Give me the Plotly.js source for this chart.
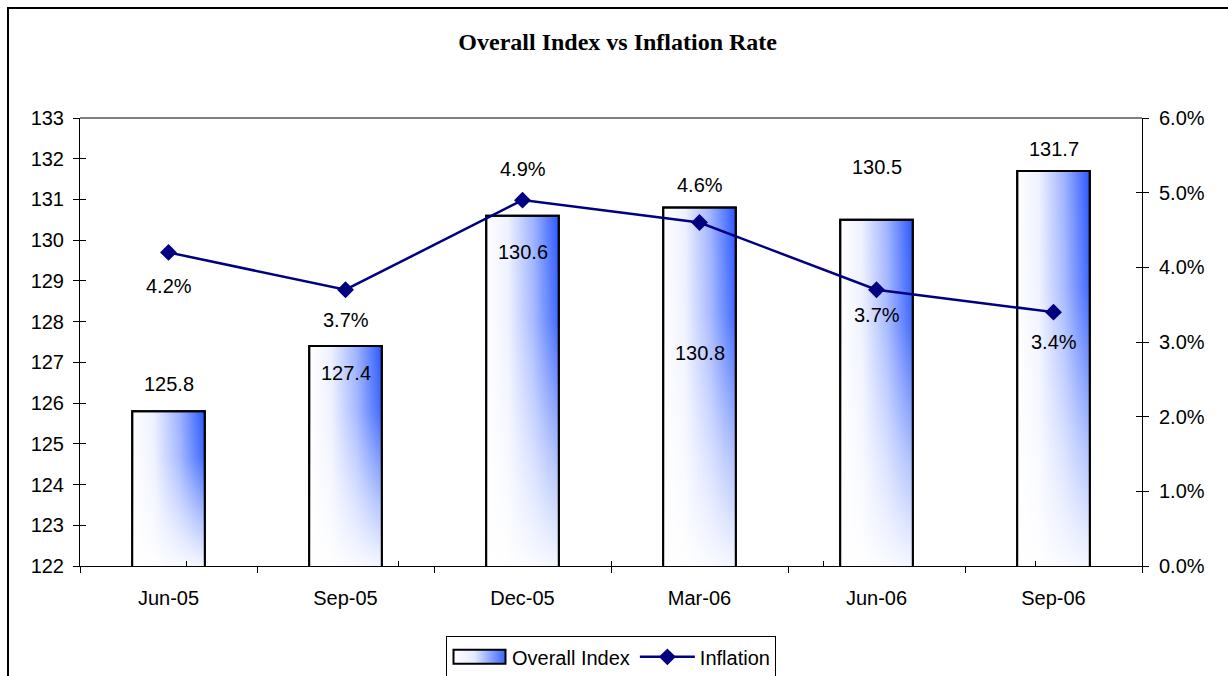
<!DOCTYPE html>
<html>
<head>
<meta charset="utf-8">
<script src="https://cdn.plot.ly/plotly-3.0.1.min.js"></script>
<style>
html,body{margin:0;padding:0;background:#fff;}
#wrap{position:relative;width:1228px;height:676px;overflow:hidden;}
#chart{width:1228px;height:676px;}
#frame{position:absolute;left:7px;top:7px;width:1300px;height:700px;border-left:2px solid #000;border-top:2px solid #000;pointer-events:none;}
</style>
</head>
<body>
<div id="wrap"><div id="chart"></div><div id="frame"></div></div>
<script>
const categories = ["Jun-05", "Sep-05", "Dec-05", "Mar-06", "Jun-06", "Sep-06"];
const overallIndex = [125.8, 127.4, 130.6, 130.8, 130.5, 131.7];
const inflation = [4.2, 3.7, 4.9, 4.6, 3.7, 3.4];
const indexTickVals = [122,123,124,125,126,127,128,129,130,131,132,133];
const inflTickVals = [0,1,2,3,4,5,6];
const inflTickText = inflTickVals.map(v => v.toFixed(1) + "%");

// label offsets (pixels, positive = up)
const indexLabelShift = [27, -27, -36, -145, 53, 22];
const inflLabelShift = [-34, -30, 31, 38, -25, -30];

const FONT = "Liberation Sans, Arial, sans-serif";

const traces = [
  {
    type: "bar", name: "Overall Index", x: categories, y: overallIndex,
    marker: {color: "#7f9cff", line: {color: "#000", width: 2}},
    xaxis: "x", yaxis: "y", hoverinfo: "x+y"
  },
  {
    type: "scatter", mode: "lines+markers", name: "Inflation", x: categories, y: inflation,
    line: {color: "#000080", width: 2.5},
    marker: {symbol: "diamond", size: 13, color: "#000080"},
    xaxis: "x", yaxis: "y2"
  },
  // helper traces for crossing tick marks
  {type: "scatter", mode: "none", x: categories, y: categories.map(() => null), xaxis: "x2", yaxis: "y3", showlegend: false, hoverinfo: "skip"},
  {type: "scatter", mode: "none", x: categories, y: categories.map(() => null), xaxis: "x2", yaxis: "y4", showlegend: false, hoverinfo: "skip"}
];

const annotations = [];
categories.forEach((c, i) => {
  annotations.push({x: c, y: overallIndex[i], xref: "x", yref: "y", text: overallIndex[i].toFixed(1),
    showarrow: false, yshift: indexLabelShift[i], font: {family: FONT, size: 20, color: "#000"}});
  annotations.push({x: c, y: inflation[i], xref: "x", yref: "y2", text: inflation[i].toFixed(1) + "%",
    showarrow: false, yshift: inflLabelShift[i], font: {family: FONT, size: 20, color: "#000"}});
});

const tickFont = {family: FONT, size: 20, color: "#000"};

const layout = {
  width: 1228, height: 676,
  margin: {l: 80, r: 86, t: 118, b: 110, autoexpand: false},
  paper_bgcolor: "#fff", plot_bgcolor: "rgba(0,0,0,0)",
  font: {family: FONT, size: 20, color: "#000"},
  title: {text: "<b>Overall Index vs Inflation Rate</b>", font: {family: "Liberation Serif, Times New Roman, serif", size: 24, color: "#000"},
    x: 0.503, xanchor: "center", y: 1 - 42/676, yanchor: "middle", yref: "container"},
  bargap: 0.59,
  showlegend: true,
  legend: {orientation: "h", x: 0.5, xanchor: "center", y: -0.157, yanchor: "top",
    bordercolor: "#000", borderwidth: 1, font: {family: FONT, size: 20, color: "#000"}, itemwidth: 55,
    traceorder: "normal", tracegroupgap: 0},
  xaxis: {type: "category", showgrid: false, zeroline: false, showline: true, linecolor: "#000", linewidth: 1,
    ticks: "outside", ticklen: 6, tickcolor: "#000", tickson: "boundaries", tickfont: tickFont, ticklabelstandoff: 14, fixedrange: true},
  xaxis2: {type: "category", overlaying: "x", anchor: "y3", showgrid: false, zeroline: false, showline: false,
    ticks: "inside", ticklen: 5, tickcolor: "#000", tickson: "boundaries", showticklabels: false, categoryarray: categories, categoryorder: "array"},
  yaxis: {range: [122, 133], tickvals: indexTickVals, showgrid: false, zeroline: false, showline: true, linecolor: "#000", linewidth: 1,
    ticks: "outside", ticklen: 6, tickcolor: "#000", tickfont: tickFont, ticklabelstandoff: 5},
  yaxis2: {range: [0, 6], tickvals: inflTickVals, ticktext: inflTickText, overlaying: "y", side: "right", showgrid: false, zeroline: false,
    showline: true, linecolor: "#000", linewidth: 1, ticks: "outside", ticklen: 6, tickcolor: "#000", tickfont: tickFont, ticklabelstandoff: 6},
  yaxis3: {range: [122, 133], tickvals: indexTickVals, overlaying: "y", side: "left", showgrid: false, zeroline: false, showline: false,
    ticks: "inside", ticklen: 6, tickcolor: "#000", showticklabels: false},
  yaxis4: {range: [0, 6], tickvals: inflTickVals, overlaying: "y", side: "right", showgrid: false, zeroline: false, showline: false,
    ticks: "inside", ticklen: 6, tickcolor: "#000", showticklabels: false},
  shapes: [
    {type: "line", xref: "paper", yref: "paper", x0: 0, x1: 1, y0: 1, y1: 1, line: {color: "#808080", width: 2}, layer: "below"}
  ],
  annotations: annotations
};

const gd = document.getElementById("chart");
Plotly.newPlot(gd, traces, layout, {displayModeBar: false, staticPlot: true}).then(applyGradients);

function applyGradients() {
  const svg = gd.querySelector(".main-svg");
  const NS = "http://www.w3.org/2000/svg";
  let defs = svg.querySelector("defs");
  if (!defs) { defs = document.createElementNS(NS, "defs"); svg.insertBefore(defs, svg.firstChild); }
  const plotH = gd._fullLayout._size.h;
  function grad(id, x1, y1, x2, y2, stops) {
    const g = document.createElementNS(NS, "linearGradient");
    g.setAttribute("id", id);
    g.setAttribute("gradientUnits", "userSpaceOnUse");
    g.setAttribute("x1", x1); g.setAttribute("y1", y1); g.setAttribute("x2", x2); g.setAttribute("y2", y2);
    stops.forEach(s => {
      const st = document.createElementNS(NS, "stop");
      st.setAttribute("offset", s[0]);
      st.setAttribute("stop-color", s[1]);
      st.setAttribute("stop-opacity", s[2]);
      g.appendChild(st);
    });
    defs.appendChild(g);
  }
  const hStops = [["0", "#ffffff", 1], ["0.3", "#eef1ff", 1], ["0.65", "#9fb3ff", 1], ["1", "#2a58ff", 1]];
  const vStops = [["0", "#ffffff", 0], ["0.3", "#ffffff", 0.1], ["0.7", "#ffffff", 0.62], ["1", "#ffffff", 0.95]];

  gd.querySelectorAll(".barlayer .point path").forEach((p, i) => {
    const bb = p.getBBox();
    const top = bb.y;
    const bottom = Math.min(bb.y + bb.height, plotH);
    grad("hg" + i, bb.x, top, bb.x + bb.width, top, hStops);
    grad("vf" + i, bb.x, top, bb.x, bottom, vStops);
    p.style.fill = "url(#hg" + i + ")";
    p.style.fillOpacity = 1;
    const fade = p.cloneNode();
    fade.style.fill = "url(#vf" + i + ")";
    fade.style.stroke = "none";
    const outline = p.cloneNode();
    outline.style.fill = "none";
    p.parentNode.appendChild(fade);
    p.parentNode.appendChild(outline);
  });
  const legendTraces = gd.querySelectorAll(".legend .traces");
  if (legendTraces.length) {
    legendTraces[0].querySelectorAll(".legendpoints path").forEach(p => {
      p.setAttribute("d", "M-26,-7h52v14h-52Z");
      grad("lg", -26, 0, 26, 0, [["0", "#ffffff", 1], ["0.4", "#e6ebff", 1], ["1", "#3a64ff", 1]]);
      p.style.fill = "url(#lg)"; p.style.fillOpacity = 1;
      p.style.stroke = "#000"; p.style.strokeWidth = "2px";
    });
  }
}
</script>
</body>
</html>
